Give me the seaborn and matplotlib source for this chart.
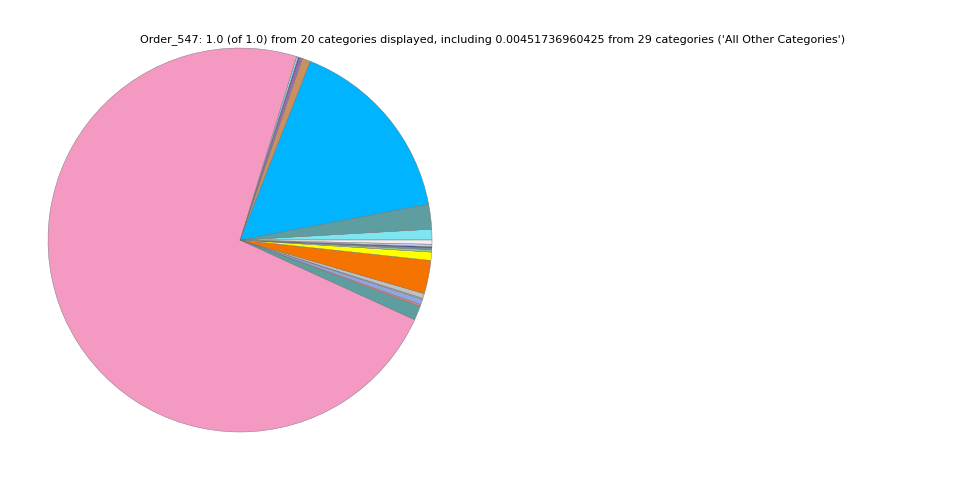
import matplotlib
matplotlib.use("Agg")
import matplotlib.pyplot as plt
import seaborn as sns

# slice shares, counter-clockwise from 3 o'clock
shares = [0.9, 2.1, 16.0, 0.7, 0.25, 0.1, 0.15, 72.8, 1.2, 0.15,
          0.45, 0.1, 0.4, 2.8, 0.7, 0.2, 0.15, 0.1, 0.2, 0.35]
colors = ['#7ee6f0', '#5f9ea0', '#00b4ff', '#c8915e', '#9a6ac0', '#6a3d8f',
          '#7ee6f0', '#f49ac2', '#5f9ea0', '#f08070', '#8ea7e0', '#b0b0c8',
          '#c0c0c0', '#f57300', '#ffff00', '#90c890', '#7a8a9a', '#2040a0',
          '#c8c8f0', '#f0f0f0']

title = ("Order_547: 1.0 (of 1.0) from 20 categories displayed, including "
         "0.00451736960425 from 29 categories ('All Other Categories')")

sns.set_theme(style="white")
fig = plt.figure(figsize=(9.6, 4.8), dpi=100)
ax = fig.add_axes([0.0, 0.0, 0.5, 1.0])
ax.pie(shares, colors=colors, startangle=0,
       wedgeprops={'edgecolor': '#707070', 'linewidth': 0.3})
ax.set_aspect('equal')
fig.text(0.5135, 0.918, title, ha='center', va='center', fontsize=8,
         family='DejaVu Sans', color='black')
fig.savefig("out.png", dpi=100)
